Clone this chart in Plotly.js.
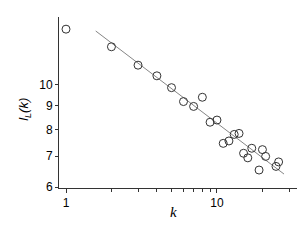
<!DOCTYPE html>
<html>
<head>
<meta charset="utf-8">
<script src="https://cdn.plot.ly/plotly-3.0.1.min.js"></script>
<style>html,body{margin:0;padding:0;background:#fff;}#chart{width:306px;height:240px;}</style>
</head>
<body>
<div id="chart"></div>
<script>
// Data
const kValues = [1, 2, 3, 4, 5, 6, 7, 8, 9, 10, 11, 12, 13, 14, 15, 16, 17, 19, 20, 21, 24.6, 25.6];
const lValues = [13.19, 12.08, 11.02, 10.45, 9.85, 9.19, 8.97, 9.39, 8.29, 8.38, 7.46, 7.55, 7.80, 7.84, 7.10, 6.94, 7.28, 6.53, 7.23, 6.99, 6.65, 6.80];
const fitK = [1.573, 27.8];
const fitL = [13.07, 6.40];
const yTickVals = [6, 7, 8, 9, 10];
const xTickVals = [1, 10];
const xMinorVals = [2, 3, 4, 5, 6, 7, 8, 9, 20, 30];
const xTitle = '<i>k</i>';
const yTitle = '<i>l<sub>L</sub>(k)</i>';

const traces = [
  {x: fitK, y: fitL, mode: 'lines', type: 'scatter',
   line: {color: '#666', width: 0.8}, hoverinfo: 'skip'},
  {x: kValues, y: lValues, mode: 'markers', type: 'scatter',
   marker: {symbol: 'circle-open', size: 8, color: '#333', line: {width: 1, color: '#333'}}}
];

const layout = {
  width: 306, height: 240,
  margin: {l: 59, r: 9, t: 17, b: 52},
  paper_bgcolor: '#fff', plot_bgcolor: '#fff',
  showlegend: false,
  font: {family: 'Liberation Sans, Arial, sans-serif', size: 12, color: '#000'},
  xaxis: {
    type: 'log', range: [-0.0464, 1.530],
    tickmode: 'array', tickvals: xTickVals, ticktext: xTickVals.map(String),
    ticks: 'outside', ticklen: 4, tickwidth: 1, tickcolor: '#333',
    minor: {tickmode: 'array', tickvals: xMinorVals, ticks: 'outside', ticklen: 3, tickwidth: 1, tickcolor: '#333', showgrid: false},
    showline: true, linecolor: '#333', linewidth: 1,
    showgrid: false, zeroline: false,
    tickfont: {size: 12}
  },
  yaxis: {
    type: 'log', range: [0.776, 1.1466],
    tickmode: 'array', tickvals: yTickVals, ticktext: yTickVals.map(String),
    ticks: 'outside', ticklen: 3, tickwidth: 1, tickcolor: '#333',
    showline: true, linecolor: '#333', linewidth: 1,
    showgrid: false, zeroline: false,
    tickfont: {size: 12}
  },
  annotations: [
    {text: xTitle, xref: 'paper', yref: 'paper', x: 0.481, y: -0.14,
     xanchor: 'center', yanchor: 'middle', showarrow: false,
     font: {size: 15, family: 'Liberation Serif, Times New Roman, serif'}},
    {text: yTitle, xref: 'paper', yref: 'paper', x: -0.145, y: 0.46,
     xanchor: 'center', yanchor: 'middle', showarrow: false, textangle: -90,
     font: {size: 13, family: 'Liberation Sans, Arial, sans-serif'}}
  ]
};

Plotly.newPlot('chart', traces, layout, {staticPlot: true, displayModeBar: false});
</script>
</body>
</html>
